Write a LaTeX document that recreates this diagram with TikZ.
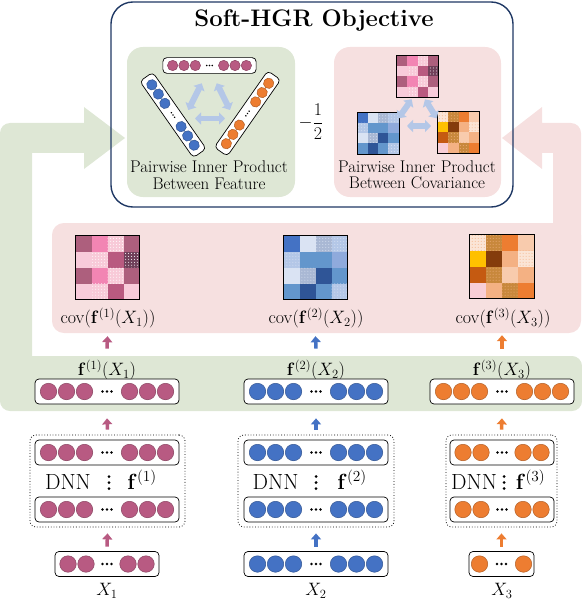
\RequirePackage{fix-cm}
\documentclass[tikz,border=0pt]{standalone}
\usepackage{amsmath}
\usetikzlibrary{arrows.meta,calc,patterns,positioning}

\definecolor{hgrnavy}{HTML}{1F3864}
\definecolor{featgreen}{HTML}{DEE7D5}
\definecolor{covpink}{HTML}{F6E0E0}
\definecolor{magc}{HTML}{B85A82}
\definecolor{bluec}{HTML}{4472C4}
\definecolor{orac}{HTML}{ED7D31}
\definecolor{linkblue}{HTML}{B4C7E7}
% matrix cells
\definecolor{pA}{HTML}{AD5F7D}\definecolor{pB}{HTML}{F285B3}\definecolor{pC}{HTML}{F8CAD8}
\definecolor{pD}{HTML}{F8CBDA}\definecolor{pE}{HTML}{B95A80}\definecolor{pF}{HTML}{70405A}
\definecolor{bA}{HTML}{4472C4}\definecolor{bB}{HTML}{DAE3F3}\definecolor{bC}{HTML}{A9B8D4}
\definecolor{bD}{HTML}{B4C7E7}\definecolor{bE}{HTML}{6396CC}\definecolor{bF}{HTML}{8FAADC}
\definecolor{bG}{HTML}{2F5597}
\definecolor{oA}{HTML}{FBE5D6}\definecolor{oB}{HTML}{C8883C}\definecolor{oC}{HTML}{ED7D31}
\definecolor{oD}{HTML}{F8CBAD}\definecolor{oE}{HTML}{FFC000}\definecolor{oF}{HTML}{843C0C}
\definecolor{oG}{HTML}{F4B183}\definecolor{oH}{HTML}{C55A11}\definecolor{oI}{HTML}{F8CED6}

% a framed row of neurons: name, x, y, colour, width, offsets
\newcommand{\neuronrow}[6]{%
  \node[rowbox, minimum width=#5bp] (#1) at (#2,#3) {};
  \foreach \dx in {#6}
    \node[neuron=#4] at (#2+\dx,#3) {};
  \foreach \dx in {-4.5,0,4.5}
    \fill (#2+\dx,#3) circle (1.4);
}
% a 4x4 covariance picture: name, x, y, cell, dot colour, rows
\newcommand{\covgrid}[6]{%
  \node[inner sep=0, minimum size={4*#4bp}] (#1) at (#2,#3) {};
  \foreach \row [count=\j from 0] in #6 {
    \foreach \c/\d [count=\i from 0] in \row {
      \fill[\c] (#2-2*#4+\i*#4, #3-2*#4+\j*#4) rectangle ++(#4,#4);
      \ifnum\d=1
        \fill[pattern=dots, pattern color=#5] (#2-2*#4+\i*#4, #3-2*#4+\j*#4) rectangle ++(#4,#4);
      \fi
    }
  }
  \draw[line width=0.7] (#1.north west) rectangle (#1.south east);
}
\newcommand{\pinkrows}{{pA/0,pB/0,pC/1,pA/0},{pD/0,pC/1,pE/0,pF/1},{pA/0,pB/0,pC/1,pA/0},{pD/0,pC/1,pE/0,pD/0}}
\newcommand{\bluerows}{{bA/0,bB/0,bC/1,bD/1},{bD/1,bE/0,bE/0,bF/0},{bB/0,bC/1,bG/0,bE/0},{bE/0,bG/0,bE/0,bD/1}}
\newcommand{\orarows}{{oA/1,oB/1,oC/0,oD/0},{oE/0,oF/0,oG/0,oA/1},{oH/0,oB/1,oD/0,oG/0},{oI/0,oG/0,oB/1,oC/0}}

\begin{document}
\begin{tikzpicture}[x=1bp,y=-1bp,
  rowbox/.style={draw, rounded corners=4, fill=white, line width=0.7, minimum height=25bp, inner sep=0},
  neuron/.style={circle, fill=#1, draw=#1!75!black, line width=0.5, minimum size=16.5bp, inner sep=0},
  dnnbox/.style={draw, dotted, rounded corners=6, line width=0.8, minimum height=92bp, inner sep=0},
  uparrow/.style={draw=#1, line width=3.5, -{Triangle[length=6bp,width=10bp]}},
  linkarrow/.style={draw=linkblue, line width=6, {Triangle[length=6bp,width=12bp]}-{Triangle[length=6bp,width=12bp]}},
  lab/.style={font=\fontsize{18}{21}\selectfont, inner sep=0},
  dnnlab/.style={font=\fontsize{22}{24}\selectfont, inner sep=0, anchor=base},
  panellab/.style={font=\fontsize{17}{16.5}\selectfont, align=center, inner sep=0},
]
\useasboundingbox (0,0) rectangle (582,600);

%% backgrounds
% feature band and its arrow up to the objective
\fill[featgreen, rounded corners=10] (0,356) rectangle (582,411);
\fill[featgreen] (0,390) -- (0,133) .. controls (0,127.5) and (4.5,123) .. (10,123) -- (84,123) -- (84,107)
  -- (125,138) -- (84,169) -- (84,153) -- (32,153) -- (32,390) -- cycle;
% covariance band and its arrow
\fill[covpink, rounded corners=12] (52,223) rectangle (581,333);
\fill[covpink] (581,300) -- (581,133) .. controls (581,127.5) and (576.5,123) .. (571,123) -- (542,123) -- (542,107)
  -- (502,138) -- (542,169) -- (542,153) -- (553,153) -- (553,300) -- cycle;

%% objective
\node[fill=featgreen, rounded corners=16, minimum width=168bp, minimum height=150bp] (featpanel) at (211,122) {};
\node[fill=covpink, rounded corners=16, minimum width=167bp, minimum height=150bp] (covpanel) at (417.5,122) {};
\node[draw=hgrnavy, line width=1.4, rounded corners=22, minimum width=402bp, minimum height=205bp] (objbox) at (312,104.5) {};
\node[font=\fontsize{24}{28}\selectfont\bfseries, inner sep=0] (title) at (314,21) {Soft-HGR Objective};

% Node: inner product between features
\begin{scope}[shift={(209.5,65.5)}, scale=0.63, transform shape]
  \neuronrow{objA}{0}{0}{magc}{148}{-58.5,-40.5,-22.5,22.5,40.5,58.5}
\end{scope}
\begin{scope}[shift={(173,115)}, rotate=-55, scale=0.63, transform shape]
  \neuronrow{objB}{0}{0}{bluec}{148}{-58.5,-40.5,-22.5,22.5,40.5,58.5}
\end{scope}
\begin{scope}[shift={(247.5,113.5)}, rotate=55, scale=0.63, transform shape]
  \neuronrow{objC}{0}{0}{orac}{148}{-58.5,-40.5,-22.5,22.5,40.5,58.5}
\end{scope}
\coordinate (lkAB1) at (201.7,83.3); \coordinate (lkAB2) at (188.3,110);
\coordinate (lkAC1) at (216.7,83.3); \coordinate (lkAC2) at (230,110);
\coordinate (lkBC1) at (195,118.5); \coordinate (lkBC2) at (225,118.5);
\draw[linkarrow] (lkAB1) -- (lkAB2);
\draw[linkarrow] (lkAC1) -- (lkAC2);
\draw[linkarrow] (lkBC1) -- (lkBC2);
\node[panellab] (feattext) at (209,175) {Pairwise Inner Product\\Between Feature};

\node[font=\fontsize{18}{21}\selectfont, inner sep=0] (half) at (311,122) {$-\dfrac{1}{2}$};

% Node: inner product between covariances
\covgrid{mtA}{417.5}{76.5}{10.4}{white}{\pinkrows}
\covgrid{mtB}{378}{133}{10.4}{bB}{\bluerows}
\covgrid{mtC}{458.8}{132.5}{10.4}{oG}{\orarows}
\coordinate (lkmAB1) at (411.7,99.3); \coordinate (lkmAB2) at (398.3,118.3);
\coordinate (lkmAC1) at (425,99.3); \coordinate (lkmAC2) at (436.7,118.3);
\coordinate (lkmBC1) at (407,126); \coordinate (lkmBC2) at (431,126);
\draw[linkarrow] (lkmAB1) -- (lkmAB2);
\draw[linkarrow] (lkmAC1) -- (lkmAC2);
\draw[linkarrow] (lkmBC1) -- (lkmBC2);
\node[panellab] (covtext) at (417,175) {Pairwise Inner Product\\Between Covariance};

%% covariances
\covgrid{covA}{107.5}{267.5}{16}{white}{\pinkrows}
\covgrid{covB}{315.5}{267.5}{16}{bB}{\bluerows}
\covgrid{covC}{502}{266.5}{16}{oG}{\orarows}
\node[lab] (covlA) at (108,318) {$\mathrm{cov}(\mathbf{f}^{(1)}(X_1))$};
\node[lab] (covlB) at (316,318) {$\mathrm{cov}(\mathbf{f}^{(2)}(X_2))$};
\node[lab] (covlC) at (503,318) {$\mathrm{cov}(\mathbf{f}^{(3)}(X_3))$};

%% features
\node[lab] (flabA) at (107,370) {$\mathbf{f}^{(1)}(X_1)$};
\node[lab] (flabB) at (316,370) {$\mathbf{f}^{(2)}(X_2)$};
\node[lab] (flabC) at (502,370) {$\mathbf{f}^{(3)}(X_3)$};
\neuronrow{featA}{107}{391.5}{magc}{144}{-58.5,-40.5,-22.5,22.5,40.5,58.5}
\neuronrow{featB}{316}{391.5}{bluec}{144}{-58.5,-40.5,-22.5,22.5,40.5,58.5}
\neuronrow{featC}{502}{391.5}{orac}{144}{-58.5,-40.5,-22.5,22.5,40.5,58.5}

%% networks
\node[dnnbox, minimum width=155bp] (dnnA) at (107.5,481) {};
\node[dnnbox, minimum width=156bp] (dnnB) at (316,481) {};
\node[dnnbox, minimum width=111bp] (dnnC) at (501.5,481) {};
\neuronrow{dnnA1}{107}{452.5}{magc}{144}{-58.5,-40.5,-22.5,22.5,40.5,58.5}
\neuronrow{dnnA2}{107}{509.5}{magc}{144}{-58.5,-40.5,-22.5,22.5,40.5,58.5}
\neuronrow{dnnB1}{316}{452.5}{bluec}{144}{-58.5,-40.5,-22.5,22.5,40.5,58.5}
\neuronrow{dnnB2}{316}{509.5}{bluec}{144}{-58.5,-40.5,-22.5,22.5,40.5,58.5}
\neuronrow{dnnC1}{502}{452.5}{orac}{104}{-39,-21,21,39}
\neuronrow{dnnC2}{502}{509.5}{orac}{104}{-39,-21,21,39}
\foreach \col/\xd/\xv/\xf/\k in {A/68/109/142/1, B/275.5/316/352/2, C/474/504/530.5/3} {
  \node[dnnlab] (dnnl\col) at (\xd,489) {DNN};
  \node[dnnlab] (dnnf\col) at (\xf,489) {$\mathbf{f}^{(\k)}$};
  \foreach \dy in {-12,-6,0}
    \fill (\xv,488.5+\dy) circle (1.5);
}

%% inputs
\neuronrow{inA}{107}{564}{magc}{104}{-39,-21,21,39}
\neuronrow{inB}{316}{564}{bluec}{144}{-58.5,-40.5,-22.5,22.5,40.5,58.5}
\neuronrow{inC}{501.5}{564}{orac}{65}{-22,22}
\node[lab] (xA) at (107,591) {$X_1$};
\node[lab] (xB) at (316,591) {$X_2$};
\node[lab] (xC) at (502,591) {$X_3$};

% Edge: inputs -> networks -> features -> covariances
\draw[uparrow=magc] ([yshift=4.5bp]inA.north) -- ([yshift=-6bp]dnnA.south);
\draw[uparrow=bluec] ([yshift=4.5bp]inB.north) -- ([yshift=-6bp]dnnB.south);
\draw[uparrow=orac] ([yshift=4.5bp]inC.north) -- ([yshift=-6bp]dnnC.south);
\draw[uparrow=magc] ([yshift=5bp]dnnA.north) -- ([yshift=-14bp]featA.south);
\draw[uparrow=bluec] ([yshift=5bp]dnnB.north) -- ([yshift=-14bp]featB.south);
\draw[uparrow=orac] ([yshift=5bp]dnnC.north) -- ([yshift=-14bp]featC.south);
\draw[uparrow=magc] ([yshift=30bp]featA.north) -- ([yshift=-36.5bp]covA.south);
\draw[uparrow=bluec] ([yshift=30bp]featB.north) -- ([yshift=-36.5bp]covB.south);
\draw[uparrow=orac] ([yshift=30bp]featC.north) -- ([yshift=-36.5bp]covC.south);
\end{tikzpicture}
\end{document}
